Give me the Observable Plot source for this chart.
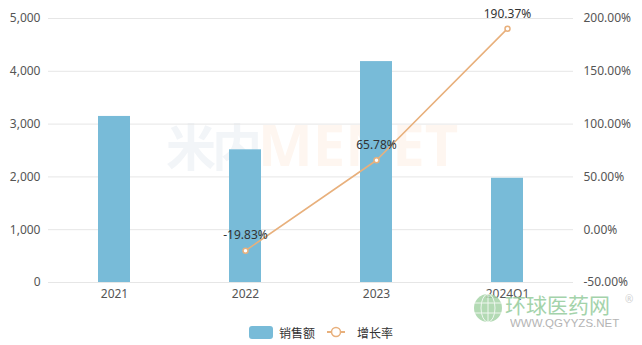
<!DOCTYPE html>
<html>
<head>
<meta charset="utf-8">
<script src="https://cdn.jsdelivr.net/npm/d3@7"></script>
<script src="https://cdn.jsdelivr.net/npm/@observablehq/plot@0.6"></script>
<style>
  html, body { margin: 0; padding: 0; background: #fff; }
  body { font-family: "Noto Sans", "Noto Sans CJK SC", sans-serif; }
  #wrap { position: relative; width: 642px; height: 345px; overflow: hidden; }
  #chart { position: relative; z-index: 1; }
  #chart svg { display: block; }
  .wm { position: absolute; white-space: nowrap; pointer-events: none; }
  .back { z-index: 0; }
  .front { z-index: 2; opacity: 0.85; }
  #legend {
    position: absolute; left: 0; top: 322px; width: 642px; height: 20px; z-index: 1;
    display: flex; justify-content: center; align-items: center;
    font-family: "Noto Sans CJK SC", sans-serif; font-size: 12px; color: #333;
  }
  .item { display: flex; align-items: center; }
  .swatch { width: 24px; height: 13px; border-radius: 3px; background: #78bbd8; margin-right: 6px; }
  .linekey { margin-right: 12px; }
</style>
</head>
<body>
<div id="wrap">
  <div class="wm back" style="left:166px; top:104px; font: bold 50px 'Noto Sans CJK SC'; color:#f2f5f8; letter-spacing:-4px;">米内<span style="color:#fef6f0; font-family:'Noto Sans'; font-size:58px; letter-spacing:0">MENET</span></div>
  <div id="chart"></div>
  <svg class="wm front" style="left:471px; top:292px;" width="34" height="32" viewBox="0 0 34 32">
    <circle cx="17" cy="16" r="14" fill="#a6d4a8"/>
    <g stroke="#fff" stroke-width="1" fill="none" opacity="0.8">
      <ellipse cx="17" cy="16" rx="7" ry="14"/>
      <line x1="3" y1="11" x2="31" y2="11"/>
      <line x1="3" y1="21" x2="31" y2="21"/>
      <line x1="17" y1="2" x2="17" y2="30"/>
    </g>
  </svg>
  <div class="wm front" style="left:505px; top:294px; font: 21px/1 'Noto Sans CJK SC'; color:#94cc9c;">环球医药网</div>
  <div class="wm front" style="left:625px; top:294px; font: 10px/1 'Noto Sans'; color:#c9c9c9;">®</div>
  <div class="wm front" style="left:510px; top:318px; font: 11.5px/1 'Liberation Sans'; color:#a8a8a8;">WWW.QGYYZS.NET</div>
  <div id="legend">
    <div class="item"><div class="swatch"></div><span style="margin-right:12px">销售额</span></div>
    <div class="item">
      <svg class="linekey" width="18" height="12"><line x1="0" y1="6" x2="18" y2="6" stroke="#e8b07c" stroke-width="2"/><circle cx="9" cy="6" r="4.5" fill="#fff" stroke="#e8b07c" stroke-width="1.5"/></svg>
      <span>增长率</span>
    </div>
  </div>
</div>
<script>
// Annual sales (left axis) and year-over-year growth rate (right axis)
const categories = ["2021", "2022", "2023", "2024Q1"];
const sales = [3145, 2513, 4184, 1974];
const growthCategories = ["2022", "2023", "2024Q1"];
const growth = [-19.83, 65.78, 190.37];
const leftTicks = [0, 1000, 2000, 3000, 4000, 5000];
const rightTicks = [-50, 0, 50, 100, 150, 200];

const leftMax = 5000;
const rightMin = -50, rightMax = 200;
// map a percent value onto the sales scale so both series share one y scale
const toLeft = v => (v - rightMin) / (rightMax - rightMin) * leftMax;
const fromLeft = y => y / leftMax * (rightMax - rightMin) + rightMin;

const barData = categories.map((c, i) => ({cat: c, value: sales[i]}));
const lineData = growthCategories.map((c, i) => ({cat: c, g: growth[i]}));

const lineColor = "#e8b07c";

const chart = Plot.plot({
  width: 642,
  height: 320,
  marginTop: 18,
  marginBottom: 38,
  marginLeft: 48,
  marginRight: 69,
  style: {fontFamily: "'Noto Sans', 'Noto Sans CJK SC', sans-serif", fontSize: "12px", color: "#666", background: "transparent"},
  x: {domain: categories, paddingInner: 0.757, paddingOuter: 0.3785, label: null},
  y: {domain: [0, leftMax], label: null},
  marks: [
    Plot.gridY(leftTicks, {stroke: "#e6e6e6", strokeOpacity: 1}),
    Plot.barY(barData, {x: "cat", y: "value", fill: "#78bbd8"}),
    Plot.axisX({tickSize: 0, tickPadding: 7, fontSize: 12, fill: "#555"}),
    Plot.axisY(leftTicks, {anchor: "left", tickSize: 0, tickPadding: 8, tickFormat: d3.format(","), fontSize: 12, fill: "#555"}),
    Plot.axisY(rightTicks.map(toLeft), {anchor: "right", tickSize: 0, tickPadding: 10, tickFormat: d => fromLeft(d).toFixed(2) + "%", fontSize: 12, fill: "#555"}),
    Plot.line(lineData, {x: "cat", y: d => toLeft(d.g), stroke: lineColor, strokeWidth: 1.6}),
    Plot.dot(lineData, {x: "cat", y: d => toLeft(d.g), r: 2.5, fill: "#fff", stroke: lineColor, strokeWidth: 1.5}),
    Plot.text(lineData, {x: "cat", y: d => toLeft(d.g), text: d => d.g.toFixed(2) + "%", dy: -15, fill: "#333", fontSize: 12})
  ]
});
document.getElementById("chart").appendChild(chart);
</script>
</body>
</html>
